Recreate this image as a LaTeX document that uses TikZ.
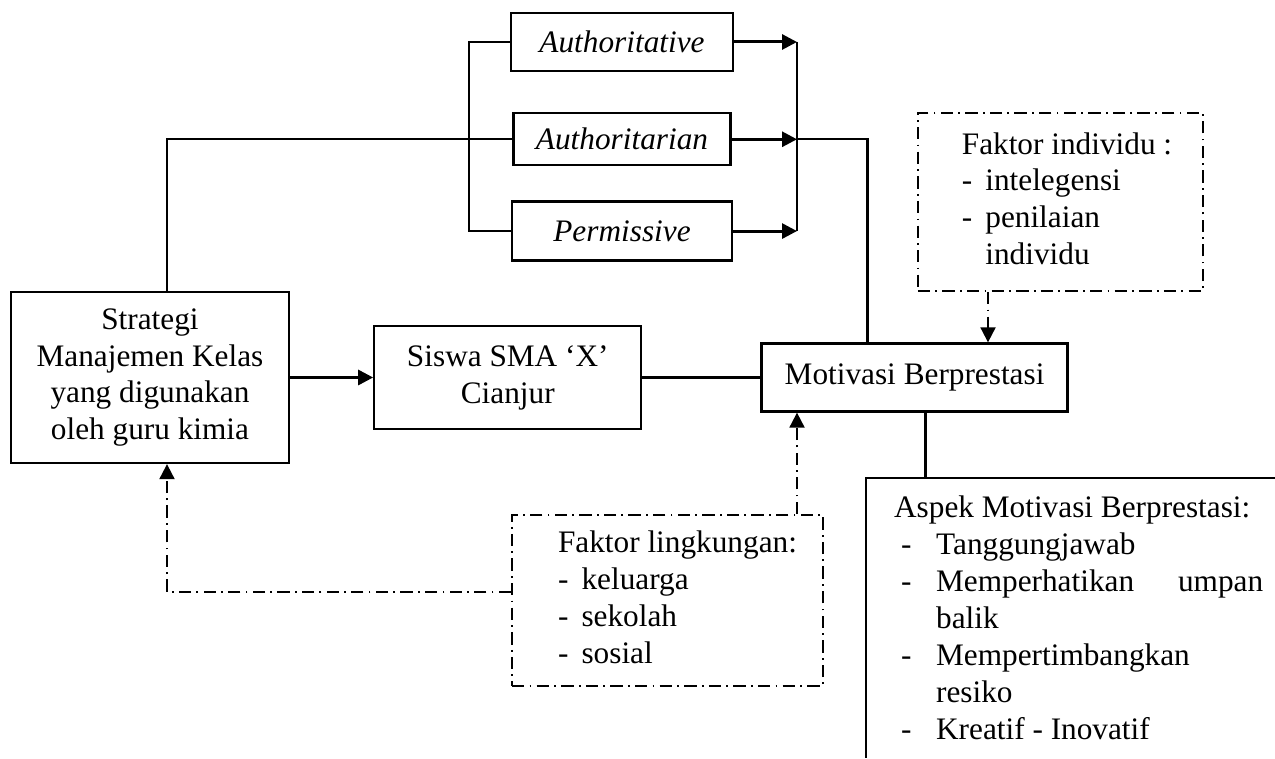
\documentclass[tikz,border=0pt]{standalone}
\usepackage{fontspec}
\setmainfont{Liberation Serif}
\usepackage{tikz}
\usetikzlibrary{positioning}
\usetikzlibrary{arrows.meta}
\newcommand{\dashitem}{\makebox[0.47cm][l]{-}}
\newcommand{\aspitem}{\makebox[0.84cm][l]{\hspace{0.14cm}-}}
\newcommand{\aspgap}{\makebox[0.84cm]{}}
\tikzset{
box/.style = {draw, rectangle, line width=1.3pt, align=center, inner sep=0pt,
  font=\fontsize{17.8}{21}\selectfont},
factor/.style = {box, line width=1.1pt, dash pattern=on 7pt off 3pt on 1pt off 3pt},
conn/.style = {line width=1.3pt},
flow/.style = {line width=1.7pt, ->},
hint/.style = {line width=1.1pt, dash pattern=on 7pt off 3pt on 1pt off 3pt, ->}
}

\begin{document}
\begin{tikzpicture}[>={Triangle[length=0.3cm,width=0.3cm]}]
    \useasboundingbox (0,0) rectangle (25.5,15.16);
    % We start by placing the blocks
    \node [box, minimum width=5.56cm, minimum height=3.42cm] at (3.0,7.61) (strat)
        {Strategi\\Manajemen Kelas\\yang digunakan\\oleh guru kimia};
    \node [box, minimum width=5.34cm, minimum height=2.06cm, right=1.66cm of strat] (siswa)
        {Siswa SMA ‘X’\\Cianjur};
    \node [box, minimum width=6.12cm, minimum height=1.36cm, right=2.36cm of siswa] (motiv)
        {Motivasi Berprestasi};
    \node [box, minimum width=4.44cm, minimum height=1.16cm] at (12.44,14.32) (auth1)
        {\itshape Authoritative};
    \node [box, minimum width=4.34cm, minimum height=1.04cm, below=0.8cm of auth1] (auth2)
        {\itshape Authoritarian};
    \node [box, minimum width=4.4cm, minimum height=1.18cm, below=0.68cm of auth2] (perm)
        {\itshape Permissive};
    \node [factor, minimum width=5.7cm, minimum height=3.56cm, inner xsep=0.62cm] at (21.21,11.12) (indiv)
        {\begin{tabular}{@{\hspace{0.26cm}}l@{}}Faktor individu :\\ \dashitem intelegensi\\
         \dashitem penilaian\\ \makebox[0.47cm]{}individu\end{tabular}};
    \node [factor, minimum width=6.22cm, minimum height=3.42cm, inner xsep=0.5cm] at (13.35,3.15) (lingk)
        {\begin{tabular}{@{\hspace{0.4cm}}l@{}}Faktor lingkungan:\\ \dashitem keluarga\\
         \dashitem sekolah\\ \dashitem sosial\end{tabular}};
    \node [box, draw=none, anchor=north west, inner xsep=0.54cm, inner ysep=0.26cm] at (17.32,5.6) (aspek)
        {\begin{tabular}{@{}l@{}}Aspek Motivasi Berprestasi:\\ \aspitem Tanggungjawab\\
         \aspitem\hbox to 6.54cm{Memperhatikan\hfill umpan}\\ \aspgap balik\\
         \aspitem Mempertimbangkan\\ \aspgap resiko\\ \aspitem Kreatif - Inovatif\end{tabular}};
    \coordinate (split) at (9.38,14.32);
    \coordinate (join) at (15.94,14.32);
    \coordinate (corner) at (25.5,0);

    % Once the nodes are placed, connecting them is easy.
    \draw [conn] ([xshift=0.34cm]strat.north) |- (auth2.west);
    \draw [conn] (auth1.west) -- (split |- auth1) -- (split |- perm) -- (perm.west);
    \draw [flow] (auth1.east) -- (join |- auth1);
    \draw [flow] (auth2.east) -- (join |- auth2);
    \draw [flow] (perm.east) -- (join |- perm);
    \draw [conn] (join |- auth1) -- (join |- perm);
    \draw [conn] (join |- auth2) -| ([xshift=-0.94cm]motiv.north);
    \draw [flow] (strat.east |- siswa.west) -- (siswa.west);
    \draw [conn] (siswa.east) -- (motiv.west);
    \draw [hint] ([xshift=-1.45cm]indiv.south) -- ([xshift=-1.45cm]indiv.south |- motiv.north);
    \draw [hint] ([xshift=2.59cm]lingk.north) -- ([xshift=2.59cm]lingk.north |- motiv.south);
    \draw [hint] ([yshift=0.17cm]lingk.west) -| ([xshift=0.34cm]strat.south);
    \draw [conn] ([xshift=0.22cm]motiv.south) -- ([xshift=0.22cm]motiv.south |- aspek.north);
    \draw [conn] (aspek.north west -| corner) -- (aspek.north west) -- (aspek.north west |- corner);
\end{tikzpicture}
\end{document}
